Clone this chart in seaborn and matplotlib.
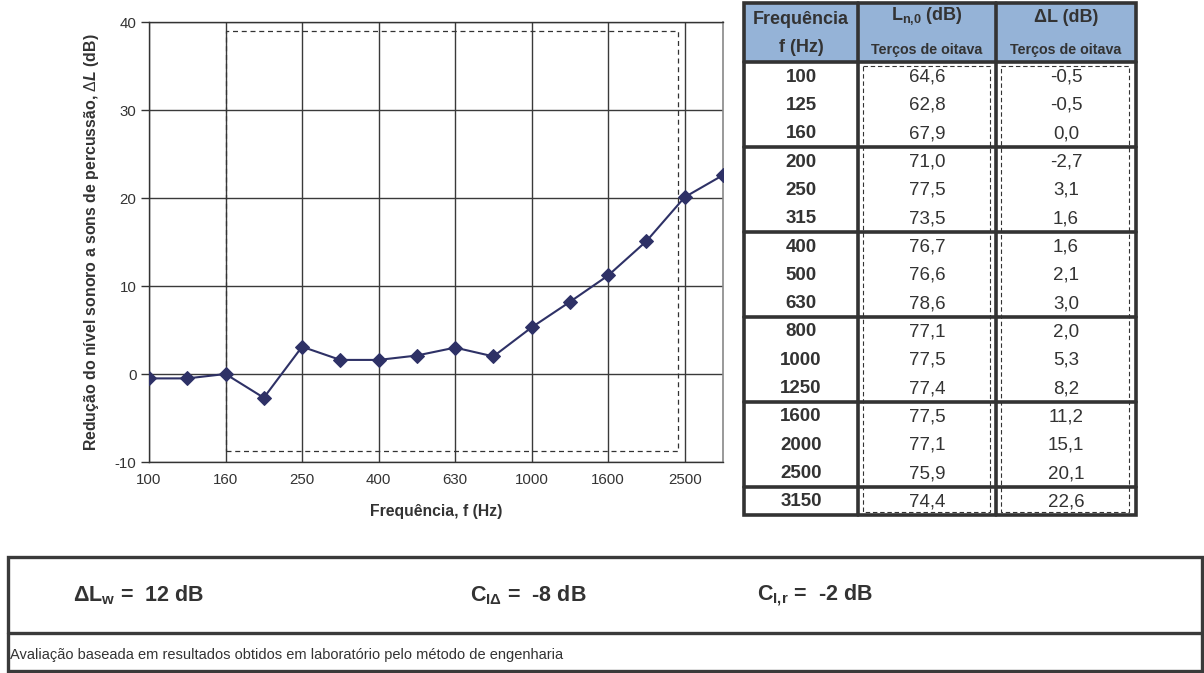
import numpy as np
import pandas as pd
import matplotlib
matplotlib.use("Agg")
import matplotlib.pyplot as plt
from matplotlib.patches import Rectangle
import seaborn as sns

# Third-octave bands and measured values
freqs = [100, 125, 160, 200, 250, 315, 400, 500, 630, 800, 1000, 1250, 1600, 2000, 2500, 3150]
ln0 = [64.6, 62.8, 67.9, 71.0, 77.5, 73.5, 76.7, 76.6, 78.6, 77.1, 77.5, 77.4, 77.5, 77.1, 75.9, 74.4]
delta_l = [-0.5, -0.5, 0.0, -2.7, 3.1, 1.6, 1.6, 2.1, 3.0, 2.0, 5.3, 8.2, 11.2, 15.1, 20.1, 22.6]

# Evaluation range frame (band index / dB)
range_x = [2.0, 13.83]
range_y = [-8.75, 39.0]

# Single-number ratings
ratings = [(r"ΔL$_\mathbf{w}$ =  12 dB", 73),
           (r"C$_\mathbf{I\Delta}$ =  -8 dB", 470),
           (r"C$_\mathbf{I{,}r}$ =  -2 dB", 757)]
footer = "Avaliação baseada em resultados obtidos em laboratório pelo método de engenharia"

sns.set_theme(style="white")
plt.rcParams["font.family"] = ["Liberation Sans", "DejaVu Sans"]
plt.rcParams["axes.unicode_minus"] = False
plt.rcParams["mathtext.fontset"] = "custom"
plt.rcParams["mathtext.rm"] = "Liberation Sans"
plt.rcParams["mathtext.bf"] = "Liberation Sans:bold"
plt.rcParams["mathtext.it"] = "Liberation Sans:italic:bold"

W, H = 1204, 673
fig = plt.figure(figsize=(W / 100, H / 100), dpi=100)

# ---- chart ----
ax = fig.add_axes([149 / W, 1 - 462 / H, (723 - 149) / W, (462 - 22) / H])
df = pd.DataFrame({"band": np.arange(len(freqs)), "dL": delta_l})
line_color = "#2e3166"
sns.lineplot(data=df, x="band", y="dL", ax=ax, color=line_color, lw=1.5,
             marker="D", markersize=7, markeredgecolor=line_color, zorder=5)

ax.set_xlim(0, len(freqs) - 1)
ax.set_ylim(-10, 40)
ax.set_yticks(np.arange(-10, 41, 10))
ax.set_xticks(np.arange(0, len(freqs) - 1, 2))
ax.set_xticklabels([str(f) for f in freqs[0:len(freqs) - 1:2]])
ax.grid(True, color="#3a3a3a", lw=1.0)
ax.tick_params(axis="y", which="both", left=True, length=6, width=1, color="#333333",
               labelsize=10.8, labelcolor="#333333", pad=3)
ax.tick_params(axis="x", length=0, labelsize=10.8, labelcolor="#333333", pad=8)
for side in ["left", "bottom", "top"]:
    ax.spines[side].set_color("#333333")
    ax.spines[side].set_linewidth(1.0)
ax.spines["right"].set_color("#888888")
ax.spines["right"].set_linewidth(1.2)
ax.set_xlabel("Frequência, f (Hz)", fontsize=11.3, fontweight="bold", color="#333333", labelpad=12)
ax.set_ylabel(r"Redução do nível sonoro a sons de percussão, $\mathit{\Delta L}$ (dB)",
              fontsize=11.4, fontweight="bold", color="#333333", labelpad=10)
ax.add_patch(Rectangle((range_x[0], range_y[0]), range_x[1] - range_x[0], range_y[1] - range_y[0],
                       fill=False, ls=(0, (4, 3)), lw=0.9, color="#333333", zorder=3))

# ---- table and rating box (pixel layout) ----
ov = fig.add_axes([0, 0, 1, 1])
ov.set_xlim(0, W)
ov.set_ylim(H, 0)
ov.axis("off")

dark = "#333333"
tx0, tx1, tx2, tx3 = 744, 858, 996, 1136
ty0, tyh, ty1 = 3, 62, 515
ov.add_patch(Rectangle((tx0, ty0), tx3 - tx0, tyh - ty0, color="#95b3d7", lw=0, zorder=1))

hfs, bfs = 13, 13.5
ov.text((tx0 + tx1) / 2, 20, "Frequência", ha="center", va="center", fontsize=hfs, fontweight="bold", color=dark)
ov.text((tx0 + tx1) / 2, 47, "f (Hz)", ha="center", va="center", fontsize=hfs, fontweight="bold", color=dark)
ov.text((tx1 + tx2) / 2, 16, r"L$_\mathbf{n{,}0}$ (dB)", ha="center", va="center", fontsize=hfs, fontweight="bold", color=dark)
ov.text((tx2 + tx3) / 2, 17, "ΔL (dB)", ha="center", va="center", fontsize=hfs, fontweight="bold", color=dark)
for xa, xb in [(tx1, tx2), (tx2, tx3)]:
    ov.text((xa + xb) / 2, 50, "Terços de oitava", ha="center", va="center", fontsize=10.3, fontweight="bold", color=dark)

pitch = (ty1 - tyh) / len(freqs)
for i, (f, a, b) in enumerate(zip(freqs, ln0, delta_l)):
    yc = tyh + pitch * (i + 0.5) + 1
    ov.text((tx0 + tx1) / 2, yc, str(f), ha="center", va="center", fontsize=bfs, fontweight="bold", color=dark)
    ov.text((tx1 + tx2) / 2, yc, f"{a:.1f}".replace(".", ","), ha="center", va="center", fontsize=bfs, color=dark)
    ov.text((tx2 + tx3) / 2, yc, f"{b:.1f}".replace(".", ","), ha="center", va="center", fontsize=bfs, color=dark)

# grid of the table
lw_t = 2.6
ov.add_patch(Rectangle((tx0, ty0), tx3 - tx0, ty1 - ty0, fill=False, lw=lw_t, color=dark, zorder=4))
for x in (tx1, tx2):
    ov.plot([x, x], [ty0, ty1], color=dark, lw=lw_t, zorder=4)
ov.plot([tx0, tx3], [tyh, tyh], color=dark, lw=lw_t, zorder=4)
for g in range(3, len(freqs), 3):
    y = tyh + pitch * g
    ov.plot([tx0, tx3], [y, y], color=dark, lw=lw_t, zorder=4)

# dashed frames inside value columns
for xa, xb in [(tx1 + 5, tx2 - 6), (tx2 + 5, tx3 - 7)]:
    ov.add_patch(Rectangle((xa, tyh + 4), xb - xa, ty1 - tyh - 7, fill=False, lw=0.8,
                           ls=(0, (4, 2.5)), color=dark, zorder=5))

# rating box
bx0, bx1, by0, bym, by1 = 8, 1202, 557, 633, 671
ov.add_patch(Rectangle((bx0, by0), bx1 - bx0, by1 - by0, fill=False, lw=2.4, color="#3a3a3a", zorder=4))
ov.plot([bx0, bx1], [bym, bym], color="#3a3a3a", lw=2.4, zorder=4)
for txt, x in ratings:
    ov.text(x, 595, txt, ha="left", va="center", fontsize=15.5, fontweight="bold", color=dark)
ov.text(10, 655, footer, ha="left", va="center", fontsize=10.5, color=dark,
        family=["Liberation Sans Narrow", "Liberation Sans", "DejaVu Sans"])

fig.savefig("out.png", dpi=100)
